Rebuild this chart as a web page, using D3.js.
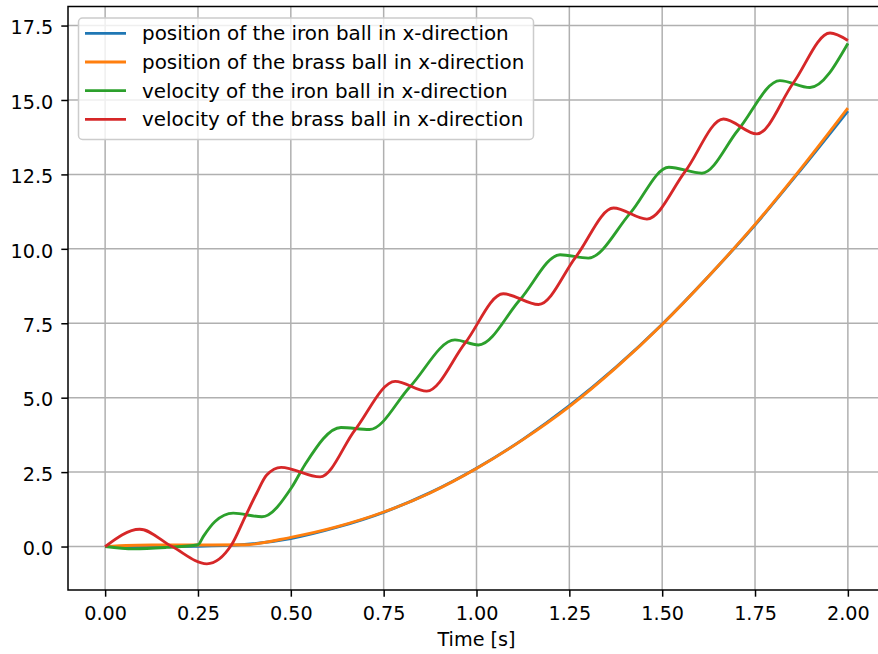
<!DOCTYPE html>
<html>
<head>
<meta charset="utf-8">
<script src="https://cdn.jsdelivr.net/npm/d3@7"></script>
<style>
  body { margin: 0; background: #fff; }
  svg { display: block; }
  text { font-family: "DejaVu Sans", sans-serif; }
</style>
</head>
<body>
<svg id="chart" width="878" height="654"></svg>
<script>
// ticks
const xTicks = [0, 0.25, 0.5, 0.75, 1.0, 1.25, 1.5, 1.75, 2.0];
const yTicks = [0, 2.5, 5, 7.5, 10, 12.5, 15, 17.5];

// positions, read at fixed times
const posTime = [0, 0.125, 0.25, 0.375, 0.5, 0.625, 0.75, 0.875, 1.0, 1.125, 1.25, 1.375, 1.5, 1.625, 1.75, 1.875, 2.0];
const ironPos = [0, 0, 0.01, 0.07, 0.27, 0.65, 1.15, 1.81, 2.63, 3.6, 4.73, 6.02, 7.47, 9.08, 10.8, 12.68, 14.63];
const brassPos = [0, 0.05, 0.05, 0.06, 0.31, 0.67, 1.16, 1.8, 2.62, 3.59, 4.7, 6.0, 7.46, 9.08, 10.82, 12.72, 14.73];

// velocities, read at extrema and crossings
const ironVelTime = [0, 0.077, 0.166, 0.25, 0.265, 0.296, 0.345, 0.422, 0.503, 0.538, 0.635, 0.712, 0.821, 0.942, 1.005, 1.117, 1.225, 1.301, 1.414, 1.518, 1.607, 1.705, 1.817, 1.898, 2.0];
const ironVel = [0, -0.08, -0.03, 0.06, 0.35, 0.84, 1.12, 1.0, 2.0, 2.75, 4.0, 3.93, 5.37, 6.94, 6.77, 8.29, 9.8, 9.69, 11.2, 12.74, 12.54, 14.0, 15.65, 15.42, 16.9];
const brassVelTime = [0, 0.093, 0.18, 0.274, 0.34, 0.377, 0.408, 0.435, 0.474, 0.579, 0.673, 0.781, 0.866, 0.969, 1.072, 1.167, 1.268, 1.369, 1.459, 1.562, 1.665, 1.755, 1.853, 1.952, 2.0];
const brassVel = [0, 0.58, 0.0, -0.58, 0.05, 1.0, 1.79, 2.4, 2.66, 2.34, 3.92, 5.55, 5.22, 6.83, 8.49, 8.13, 9.74, 11.37, 11.0, 12.6, 14.36, 13.86, 15.57, 17.25, 17.0];

const labels = [
  "position of the iron ball in x-direction",
  "position of the brass ball in x-direction",
  "velocity of the iron ball in x-direction",
  "velocity of the brass ball in x-direction"
];
const colors = ["#1f77b4", "#ff7f0e", "#2ca02c", "#d62728"];

const series = [
  d3.zip(posTime, ironPos),
  d3.zip(posTime, brassPos),
  d3.zip(ironVelTime, ironVel),
  d3.zip(brassVelTime, brassVel)
];

const svg = d3.select("#chart");
const axLeft = 68, axRight = 885, axTop = 6.5, axBottom = 590;
const fontSize = 19.2;

const x = d3.scaleLinear().domain([-0.1, 2.1]).range([axLeft, axRight]);
const y = d3.scaleLinear().domain([-1.46, 18.14]).range([axBottom, axTop]);

// grid
svg.append("g")
  .selectAll("line")
  .data(xTicks)
  .join("line")
  .attr("x1", d => x(d)).attr("x2", d => x(d))
  .attr("y1", axTop).attr("y2", axBottom)
  .attr("stroke", "#b0b0b0")
  .attr("stroke-width", 1.5);

svg.append("g")
  .selectAll("line")
  .data(yTicks)
  .join("line")
  .attr("x1", axLeft).attr("x2", axRight)
  .attr("y1", d => y(d)).attr("y2", d => y(d))
  .attr("stroke", "#b0b0b0")
  .attr("stroke-width", 1.5);

// curves
const line = d3.line()
  .x(d => x(d[0]))
  .y(d => y(d[1]))
  .curve(d3.curveMonotoneX);

svg.append("g")
  .selectAll("path")
  .data(series)
  .join("path")
  .attr("d", line)
  .attr("fill", "none")
  .attr("stroke", (d, i) => colors[i])
  .attr("stroke-width", 2.85)
  .attr("stroke-linejoin", "round");

// axes
const xAxis = svg.append("g")
  .attr("transform", `translate(0,${axBottom})`)
  .call(d3.axisBottom(x).tickValues(xTicks).tickFormat(d3.format(".2f")).tickSize(6.7).tickPadding(9.7));

const yAxis = svg.append("g")
  .attr("transform", `translate(${axLeft},0)`)
  .call(d3.axisLeft(y).tickValues(yTicks).tickFormat(d3.format(".1f")).tickSize(6.7).tickPadding(8));

[xAxis, yAxis].forEach(g => {
  g.select(".domain").remove();
  g.selectAll(".tick line").attr("stroke", "#000").attr("stroke-width", 1.5);
  g.selectAll(".tick text")
    .attr("fill", "#000")
    .style("font-size", fontSize + "px")
    .style("font-family", "DejaVu Sans");
});
yAxis.selectAll(".tick text").attr("dy", "0.43em");

// spines
svg.append("rect")
  .attr("x", axLeft).attr("y", axTop)
  .attr("width", axRight - axLeft).attr("height", axBottom - axTop)
  .attr("fill", "none")
  .attr("stroke", "#000")
  .attr("stroke-width", 1.5);

svg.append("text")
  .attr("x", (axLeft + axRight) / 2)
  .attr("y", 646)
  .attr("text-anchor", "middle")
  .style("font-size", fontSize + "px")
  .text("Time [s]");

// legend
const legend = svg.append("g");
legend.append("rect")
  .attr("x", 78.5).attr("y", 18)
  .attr("width", 455).attr("height", 121.5)
  .attr("rx", 4)
  .attr("fill", "#fff")
  .attr("fill-opacity", 0.8)
  .attr("stroke", "#cccccc")
  .attr("stroke-width", 1.5);

const rowY = d3.scaleLinear().domain([0, 3]).range([33.3, 119.3]);
const rows = legend.selectAll("g.row")
  .data(labels)
  .join("g")
  .attr("class", "row")
  .attr("transform", (d, i) => `translate(0,${rowY(i)})`);

rows.append("line")
  .attr("x1", 85).attr("x2", 126)
  .attr("stroke", (d, i) => colors[i])
  .attr("stroke-width", 2.85);

rows.append("text")
  .attr("x", 142)
  .attr("dy", "0.36em")
  .style("font-size", "19.9px")
  .attr("fill", "#000")
  .text(d => d);
</script>
</body>
</html>
